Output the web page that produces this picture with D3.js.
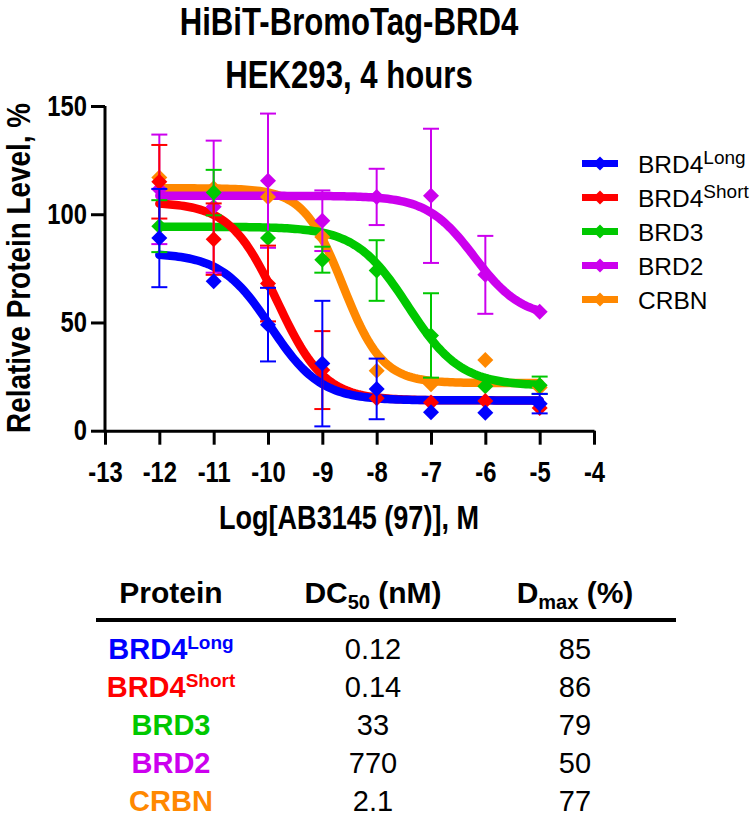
<!DOCTYPE html>
<html>
<head>
<meta charset="utf-8">
<script src="https://cdn.jsdelivr.net/npm/d3@7"></script>
<style>
  body { margin: 0; background: #fff; }
  svg text { font-family: 'Liberation Sans', Arial, sans-serif; }
</style>
</head>
<body>
<div id="chart-area"></div>
<script>
// log[AB3145] doses
var logDose = [-12, -11, -10, -9, -8, -7, -6, -5];

var proteins = ['BRD4', 'BRD4', 'BRD3', 'BRD2', 'CRBN'];
var supers = ['Long', 'Short', '', '', ''];
var colors = ['#0000ff', '#ff0000', '#00c800', '#cc00ee', '#ff8800'];

// mean values (%) per protein
var meanLong  = [89, 69, 49, 31, 19.3, 8.5, 8.3, 12.5];
var meanShort = [115, 88.5, 68, 28, 15, 13, 13.7, 10.5];
var meanBRD3  = [94.5, 110, 89, 79, 74, 44, 20.5, 21];
var meanBRD2  = [111.5, 103.5, 115.5, 97, 108, 108.5, 72, 55];
var meanCRBN  = [117, 112, 108, 89.5, 27.7, 21.5, 32.7, 20];

// error bar half-length
var errLong  = [22.7, 0, 17, 29, 14, 0, 0, 4.5];
var errShort = [17, 16.5, 17.5, 18, 0, 0, 0, 0];
var errBRD3  = [12, 10.5, 0, 6, 14, 19.5, 0, 4];
var errBRD2  = [25.3, 30.5, 31, 14, 13, 31, 18, 0];
var errCRBN  = [0, 0, 0, 0, 0, 0, 0, 0];

// 4PL fit (top, bottom, logDC50, hill)
var fitTop    = [82, 105.5, 94.2, 108.5, 112];
var fitBottom = [14, 14, 20.7, 52, 22];
var fitLogEC  = [-9.95, -9.83, -7.42, -6.2, -8.62];
var fitHill   = [0.95, 1.0, 0.9, 1.0, 1.2];

// table
var dc50 = ['0.12', '0.14', '33', '770', '2.1'];
var dmax = ['85', '86', '79', '50', '77'];

var means = [meanLong, meanShort, meanBRD3, meanBRD2, meanCRBN];
var errs = [errLong, errShort, errBRD3, errBRD2, errCRBN];

var NARROW = 0.82; // condensed bold look

var svg = d3.select('#chart-area').append('svg')
  .attr('width', 750).attr('height', 816);

var x = d3.scaleLinear().domain([-13, -4]).range([105, 594]);
var y = d3.scaleLinear().domain([0, 150]).range([430.7, 106]);

function narrowText(px, py, size, str, rot) {
  return svg.append('g')
    .attr('transform', 'translate(' + px + ',' + py + ')' + (rot ? ' rotate(' + rot + ')' : '') + ' scale(' + NARROW + ',1)')
    .append('text').attr('text-anchor', 'middle').attr('font-weight', 'bold')
    .attr('font-size', size + 'px').text(str);
}

// title
narrowText(349, 35, 38, 'HiBiT-BromoTag-BRD4');
narrowText(349, 88, 38, 'HEK293, 4 hours');

// axes
var xAxis = d3.axisBottom(x).tickValues(d3.range(-13, -3)).tickFormat(d => String(d))
  .tickSize(14).tickSizeOuter(0).tickPadding(17);
var yAxis = d3.axisLeft(y).tickValues([0, 50, 100, 150]).tickSize(14).tickSizeOuter(0).tickPadding(4);

var gx = svg.append('g').attr('transform', 'translate(0,430.7)').call(xAxis);
var gy = svg.append('g').attr('transform', 'translate(105,0)').call(yAxis);
[gx, gy].forEach(g => {
  g.select('.domain').attr('stroke', '#000').attr('stroke-width', 3);
  g.selectAll('.tick line').attr('stroke', '#000').attr('stroke-width', 3);
  g.selectAll('.tick text').attr('font-size', '29px').attr('font-weight', 'bold').attr('fill', '#000');
});
gx.selectAll('.tick text').attr('transform', 'scale(' + NARROW + ',1)');
gy.selectAll('.tick text').attr('x', -18 / NARROW).attr('transform', 'scale(' + NARROW + ',1)');
gy.select('.domain').attr('d', 'M0,' + y(150) + 'V' + (y(0) + 1.5));

narrowText(30, 268, 34, 'Relative Protein Level, %', -90);
narrowText(349, 529, 33, 'Log[AB3145 (97)], M');

// fitted curves
var curveX = d3.range(-12, -4.99, 0.05);
var line = d3.line().x(d => x(d[0])).y(d => y(d[1]));
var order = [4, 3, 2, 1, 0];
order.forEach(i => {
  var pts = curveX.map(v => [v, fitBottom[i] + (fitTop[i] - fitBottom[i]) / (1 + Math.pow(10, (v - fitLogEC[i]) * fitHill[i]))]);
  svg.append('path').datum(pts).attr('d', line)
    .attr('fill', 'none').attr('stroke', colors[i]).attr('stroke-width', 8.5)
    .attr('stroke-linecap', 'round');
});

function diamond(r) { return 'M0,' + (-r) + 'L' + r + ',0L0,' + r + 'L' + (-r) + ',0Z'; }

// points + error bars
order.forEach(i => {
  var g = svg.append('g');
  logDose.forEach((d, j) => {
    var m = means[i][j], e = errs[i][j];
    if (e > 0) {
      g.append('line').attr('x1', x(d)).attr('x2', x(d)).attr('y1', y(m - e)).attr('y2', y(m + e))
        .attr('stroke', colors[i]).attr('stroke-width', 2);
      [m - e, m + e].forEach(v => g.append('line')
        .attr('x1', x(d) - 8).attr('x2', x(d) + 8).attr('y1', y(v)).attr('y2', y(v))
        .attr('stroke', colors[i]).attr('stroke-width', 2));
    }
    g.append('path').attr('d', diamond(8)).attr('transform', 'translate(' + x(d) + ',' + y(m) + ')')
      .attr('fill', colors[i]);
  });
});

// legend
proteins.forEach((p, i) => {
  var cy = 163.5 + i * 34;
  svg.append('line').attr('x1', 582).attr('x2', 618).attr('y1', cy).attr('y2', cy)
    .attr('stroke', colors[i]).attr('stroke-width', 7);
  svg.append('path').attr('d', diamond(7)).attr('transform', 'translate(600,' + cy + ')').attr('fill', colors[i]);
  var t = svg.append('text').attr('x', 638).attr('y', cy + 9).attr('font-size', '24.5px').attr('fill', '#000');
  t.append('tspan').text(p);
  if (supers[i]) t.append('tspan').attr('dy', -9).attr('font-size', '19px').text(supers[i]);
});

// table
var colX = [171, 373, 575];
var header = svg.append('g').attr('font-weight', 'bold').attr('font-size', '30px');
header.append('text').attr('x', colX[0]).attr('y', 603).attr('text-anchor', 'middle').text('Protein');
var h2 = header.append('text').attr('x', colX[1]).attr('y', 603).attr('text-anchor', 'middle');
h2.append('tspan').text('DC');
h2.append('tspan').attr('font-size', '20px').attr('dy', 6).text('50');
h2.append('tspan').attr('dy', -6).text(' (nM)');
var h3 = header.append('text').attr('x', colX[2]).attr('y', 603).attr('text-anchor', 'middle');
h3.append('tspan').text('D');
h3.append('tspan').attr('font-size', '20px').attr('dy', 6).text('max');
h3.append('tspan').attr('dy', -6).text(' (%)');

svg.append('line').attr('x1', 96).attr('x2', 676).attr('y1', 620).attr('y2', 620)
  .attr('stroke', '#000').attr('stroke-width', 4);

proteins.forEach((p, i) => {
  var by = 659 + i * 38;
  var t = svg.append('text').attr('x', colX[0]).attr('y', by).attr('text-anchor', 'middle')
    .attr('font-weight', 'bold').attr('font-size', '29px').attr('fill', colors[i]);
  t.append('tspan').text(p);
  if (supers[i]) t.append('tspan').attr('dy', -10).attr('font-size', '19px').text(supers[i]);
  svg.append('text').attr('x', colX[1]).attr('y', by).attr('text-anchor', 'middle')
    .attr('font-size', '29px').text(dc50[i]);
  svg.append('text').attr('x', colX[2]).attr('y', by).attr('text-anchor', 'middle')
    .attr('font-size', '29px').text(dmax[i]);
});
</script>
</body>
</html>
